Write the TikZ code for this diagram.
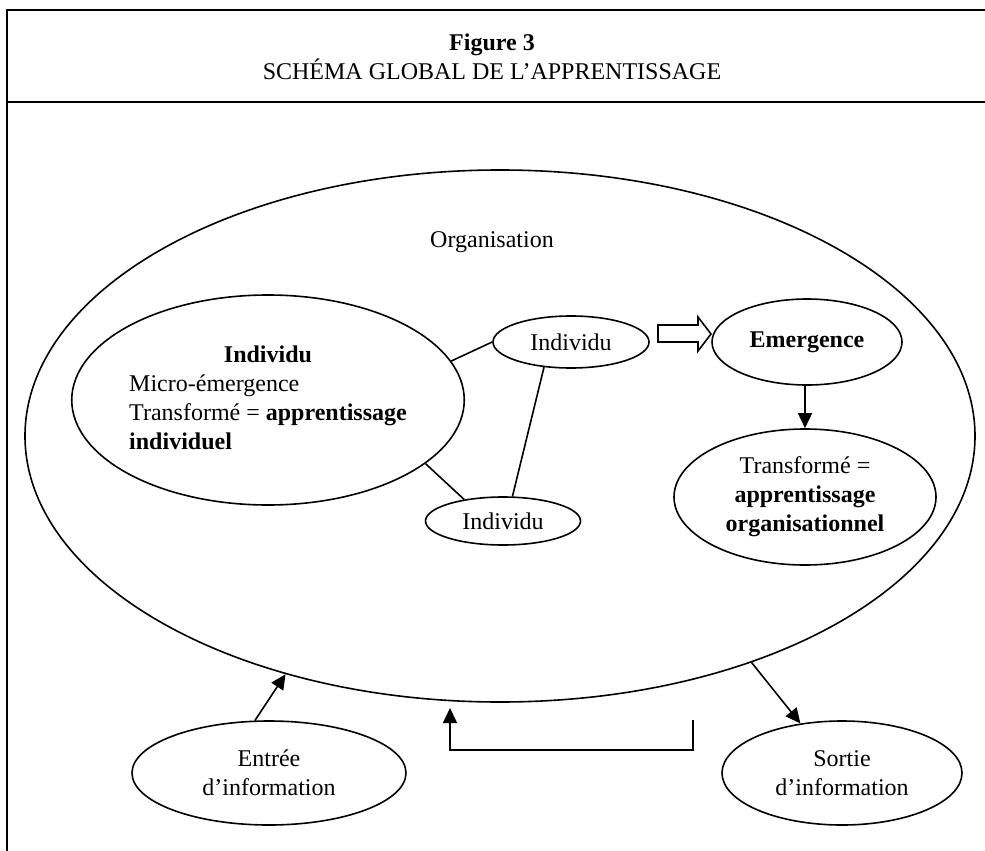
\documentclass[tikz,border=0pt]{standalone}
\usepackage{fontspec}
\setmainfont{Liberation Serif}
\usetikzlibrary{shapes.geometric,arrows.meta}
\begin{document}
\begin{tikzpicture}[x=1pt,y=-1pt,
  every node/.style={font=\fontsize{24}{29}\selectfont},
  ell/.style={ellipse,draw,line width=1.6pt,inner sep=0pt},
  link/.style={line width=1.6pt},
  arr/.style={line width=1.6pt,-{Triangle[length=15pt,width=14pt]}},
  frame/.style={line width=1.8pt}]
\useasboundingbox (0,0) rectangle (985,851);
% frame
\draw[frame] (985,10) -- (7,10) -- (7,851);
\draw[frame] (7,102) -- (985,102);
\node[align=center] (title) at (492,57) {\textbf{Figure 3}\\SCHÉMA GLOBAL DE L’APPRENTISSAGE};
% outer organisation ellipse
\node[ell,minimum width=950pt,minimum height=532pt] (outer) at (500,436) {};
\node (org) at (492,242) {Organisation};
% individuals
\node[ell,minimum width=377pt,minimum height=210pt] (ind1) at (268,400)
  {\begin{tabular}{@{}l@{}}\multicolumn{1}{@{}c@{}}{\textbf{Individu}}\\Micro-émergence\\Transformé = \textbf{apprentissage}\\\textbf{individuel}\end{tabular}};
\node[ell,minimum width=156pt,minimum height=52pt] (ind2) at (571,342) {Individu};
\node[ell,minimum width=155pt,minimum height=48pt] (ind3) at (503,521) {Individu};
\draw[link] (ind1.12) -- (ind2.west);
\draw[link] (ind1.-22) -- (ind3.151);
\draw[link] (ind2.-137) -- (ind3.69);
% block arrow
\draw[line width=1.6pt,line join=miter] (658,325) -- (698,325) -- (698,317) -- (711,334) -- (698,351) -- (698,342) -- (658,342) -- cycle;
% emergence and organisational learning
\node[ell,minimum width=190pt,minimum height=86pt] (emer) at (807,342) {\textbf{Emergence}};
\node[ell,minimum width=262pt,minimum height=136pt,align=center] (trans) at (805,497)
  {Transformé =\\\textbf{apprentissage}\\\textbf{organisationnel}};
\draw[arr] (trans.north |- emer.south) -- (trans.north);
% input / output
\node[ell,minimum width=274pt,minimum height=104pt,align=center] (entree) at (269,773) {Entrée\\d’information};
\node[ell,minimum width=240pt,minimum height=104pt,align=center] (sortie) at (842,773) {Sortie\\d’information};
\draw[arr] (entree.105) -- (outer.-132);
\draw[arr] (outer.-42.3) -- (sortie.130);
% feedback loop
\coordinate (fbStart) at (693,720);
\coordinate (fbEnd) at (450,708);
\draw[arr] (fbStart) -- ++(0,30) -| (fbEnd);
\end{tikzpicture}
\end{document}
